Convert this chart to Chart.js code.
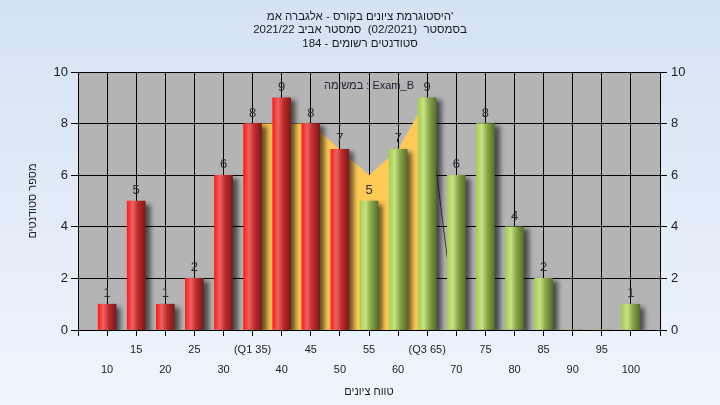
<!DOCTYPE html>
<html>
<head>
<meta charset="utf-8">
<title>histogram</title>
<script src="https://cdn.jsdelivr.net/npm/chart.js@4.4.1/dist/chart.umd.min.js"></script>
<style>
  html, body { margin: 0; padding: 0; background: #e6eef9; }
  canvas { display: block; }
</style>
</head>
<body>
<canvas id="histo" width="720" height="405"></canvas>
<script>
// data
var scores = [10, 15, 20, 25, 30, 35, 40, 45, 50, 55, 60, 65, 70, 75, 80, 85, 90, 95, 100];
var counts = [1, 5, 1, 2, 6, 8, 9, 8, 7, 5, 7, 9, 6, 8, 4, 2, 0, 0, 1];
var q1 = 35;
var q3 = 65;
var passScore = 55;

// yellow band between Q1 and Q3
var iqrScores = [35, 40, 45, 50, 55, 60, 65];
var iqrValues = [8, 8, 8, 7, 6, 7, 9];

// thin dark edge right of Q3
var edgeScores = [65, 70];
var edgeValues = [9, 0];

var chartTitle = [
  "היסטוגרמת ציונים בקורס - אלגברה אמ'",
  "בסמסטר  (02/2021)  סמסטר אביב 2021/22",
  "סטודנטים רשומים - 184"
];
var taskLabel = "במשימה : Exam_B";
var xTitle = "טווח ציונים";
var yTitle = "מספר סטודנטים";
var yMax = 10;
var yStep = 2;

// tick labels, empty slot at both ends
var tickLabels = scores.map(function (s) {
  if (s === q1) return '(Q1 ' + s + ')';
  if (s === q3) return '(Q3 ' + s + ')';
  return String(s);
});
var labels = [''].concat(tickLabels, ['']);

function seriesFor(xs, ys) {
  var out = labels.map(function () { return null; });
  xs.forEach(function (x, i) { out[scores.indexOf(x) + 1] = ys[i]; });
  return out;
}

var barData = seriesFor(scores, counts);
var areaData = seriesFor(iqrScores, iqrValues);
var edgeData = seriesFor(edgeScores, edgeValues);

var redStops = [[0, '#ff1c1c'], [0.3, '#ee6262'], [0.6, '#c02a2a'], [1, '#7a1a1a']];
var greenStops = [[0, '#a6d04c'], [0.3, '#c6e286'], [0.6, '#8aa848'], [1, '#56702c']];

function barFill(c) {
  var chart = c.chart;
  if (c.type !== 'data' || !chart.chartArea) return '#cc2222';
  var score = scores[c.dataIndex - 1];
  var x = chart.scales.x.getPixelForValue(c.dataIndex);
  var g = chart.ctx.createLinearGradient(x - 9, 0, x + 9, 0);
  (score < passScore ? redStops : greenStops).forEach(function (s) { g.addColorStop(s[0], s[1]); });
  return g;
}

var background = {
  id: 'background',
  beforeDraw: function (chart) {
    var ctx = chart.ctx, a = chart.chartArea;
    var g = ctx.createLinearGradient(0, 0, 0, chart.height);
    g.addColorStop(0, '#d4e2f4');
    g.addColorStop(1, '#eff5fc');
    ctx.save();
    ctx.fillStyle = g;
    ctx.fillRect(0, 0, chart.width, chart.height);
    ctx.fillStyle = '#b4b4b4';
    ctx.fillRect(a.left, a.top, a.right - a.left, a.bottom - a.top);
    ctx.restore();
  }
};

var barShadow = {
  id: 'barShadow',
  beforeDatasetDraw: function (chart, args) {
    if (args.meta.type !== 'bar') return;
    var ctx = chart.ctx;
    ctx.save();
    ctx.shadowColor = 'rgba(0,0,0,0.6)';
    ctx.shadowBlur = 5;
    ctx.shadowOffsetX = 5;
    ctx.shadowOffsetY = 3;
  },
  afterDatasetDraw: function (chart, args) {
    if (args.meta.type !== 'bar') return;
    chart.ctx.restore();
  }
};

var texts = {
  id: 'texts',
  beforeDatasetsDraw: function (chart) {
    var ctx = chart.ctx, a = chart.chartArea;
    ctx.save();
    ctx.font = '11px "Liberation Sans", Arial, sans-serif';
    ctx.fillStyle = '#24203a';
    ctx.textAlign = 'center';
    ctx.textBaseline = 'middle';
    ctx.fillText(taskLabel, (a.left + a.right) / 2, a.top + 14);
    ctx.restore();
  },
  afterDatasetsDraw: function (chart) {
    var ctx = chart.ctx;
    var meta = chart.getDatasetMeta(0);
    ctx.save();
    ctx.font = '13px "Liberation Sans", Arial, sans-serif';
    ctx.fillStyle = '#2c2c3c';
    ctx.textAlign = 'center';
    ctx.textBaseline = 'alphabetic';
    meta.data.forEach(function (el, i) {
      var v = barData[i];
      if (!v) return;
      ctx.fillText(String(v), el.x, el.y - 7);
    });
    ctx.restore();
  }
};

Chart.defaults.font.family = '"Liberation Sans", Arial, sans-serif';
Chart.defaults.color = '#1c1c24';

new Chart('histo', {
  data: {
    labels: labels,
    datasets: [
      {
        type: 'bar',
        data: barData,
        order: 1,
        barThickness: 18,
        backgroundColor: barFill,
        borderWidth: 0
      },
      {
        type: 'line',
        data: areaData,
        order: 2,
        fill: 'origin',
        backgroundColor: '#ffc956',
        borderWidth: 0,
        pointRadius: 0,
        tension: 0
      },
      {
        type: 'line',
        data: edgeData,
        order: 3,
        fill: false,
        borderColor: 'rgba(40,40,40,0.85)',
        borderWidth: 1,
        pointRadius: 0,
        tension: 0
      }
    ]
  },
  options: {
    responsive: false,
    animation: false,
    layout: { padding: 0 },
    plugins: {
      legend: { display: false },
      tooltip: { enabled: false },
      title: {
        display: true,
        text: chartTitle,
        color: '#1a1a22',
        font: { size: 11.5, weight: 'normal', lineHeight: 1.16 },
        padding: { top: 10, bottom: 22 }
      }
    },
    scales: {
      x: {
        type: 'category',
        offset: false,
        grid: { offset: false, color: '#000', lineWidth: 1, tickLength: 6 },
        border: { color: '#000' },
        ticks: {
          autoSkip: false,
          maxRotation: 0,
          minRotation: 0,
          padding: 4,
          font: { size: 11, lineHeight: 1.818 },
          callback: function (v, i) {
            if (i === 0 || i === labels.length - 1) return '';
            return (i % 2 === 1) ? ['', labels[i]] : labels[i];
          }
        },
        title: {
          display: true,
          text: xTitle,
          font: { size: 11 },
          padding: { top: 0, bottom: 6 }
        },
        afterFit: function (s) { s.height = 75; }
      },
      y: {
        position: 'left',
        min: 0,
        max: yMax,
        ticks: { stepSize: yStep, padding: 3, font: { size: 13 } },
        grid: { color: '#000', lineWidth: 1, tickLength: 7 },
        border: { color: '#000' },
        title: {
          display: true,
          text: yTitle,
          font: { size: 11 },
          padding: { top: 26, bottom: 0 }
        },
        afterFit: function (s) { s.width = 78; }
      },
      y2: {
        position: 'right',
        min: 0,
        max: yMax,
        ticks: { stepSize: yStep, padding: 4, font: { size: 13 } },
        grid: { drawOnChartArea: false, color: '#000', tickLength: 7 },
        border: { color: '#000' },
        afterFit: function (s) { s.width = 60; }
      }
    }
  },
  plugins: [background, barShadow, texts]
});
</script>
</body>
</html>
